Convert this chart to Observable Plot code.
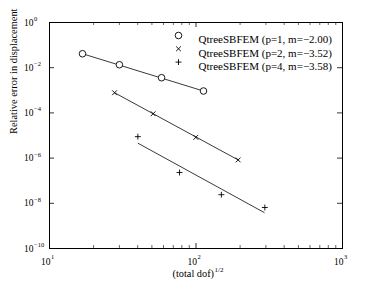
<!DOCTYPE html>
<html><head><meta charset="utf-8">
<script src="https://cdn.jsdelivr.net/npm/d3@7"></script>
<script src="https://cdn.jsdelivr.net/npm/@observablehq/plot@0.6"></script>
<style>body{margin:0;background:#fff}</style>
</head><body><div id="chart"></div>
<script>
// data
const p1X = [16.8, 30.0, 58.2, 112.5];
const p1Y = [0.0414, 0.0135, 0.0036, 0.00093];
const p2X = [27.8, 51.0, 99.7, 194];
const p2Y = [7.8e-4, 9.2e-5, 8.3e-6, 8.3e-7];
const p4X = [40.1, 77.2, 149, 295];
const p4Y = [8.9e-6, 2.3e-7, 2.4e-8, 6.5e-9];
const fit1X = [16.8, 112.5], fit1Y = [0.0414, 0.00093];
const fit2X = [27.8, 194], fit2Y = [7.8e-4, 8.3e-7];
const fit4X = [40.3, 292], fit4Y = [4.5e-6, 3.9e-9];
const seriesLabels = ["QtreeSBFEM (p=1, m=\u22122.00)", "QtreeSBFEM (p=2, m=\u22123.52)", "QtreeSBFEM (p=4, m=\u22123.58)"];
const seriesSymbols = ["circle", "times", "plus"];
const xMajor = [10, 100, 1000];
const xMajorExp = ["1", "2", "3"];
const xMinor = [20,30,40,50,60,70,80,90,200,300,400,500,600,700,800,900];
const yMajor = [1, 1e-2, 1e-4, 1e-6, 1e-8, 1e-10];
const yMajorExp = ["0", "\u22122", "\u22124", "\u22126", "\u22128", "\u221210"];
const xTitle = "(total dof)", xTitleExp = "1/2";
const yTitle = "Relative error in displacement";

const W = 378, H = 285, mL = 49, mR = 36, mT = 22, mB = 37;
const iW = W - mL - mR, iH = H - mT - mB;
const font = "Liberation Serif";
const pts = (X, Y) => X.map((x, i) => ({x, y: Y[i]}));
const symR = {circle: 3.3, times: 2.3, plus: 2.05};
const T = {fill: "#000", fontFamily: font};

const marks = [
  Plot.frame({stroke: "#000", strokeWidth: 1}),
  Plot.tickX(xMajor, {x: d => d, insetTop: iH - 5, stroke: "#000", strokeWidth: 0.8}),
  Plot.tickX(xMajor, {x: d => d, insetBottom: iH - 5, stroke: "#000", strokeWidth: 0.8}),
  Plot.tickX(xMinor, {x: d => d, insetTop: iH - 3, stroke: "#000", strokeWidth: 0.6}),
  Plot.tickX(xMinor, {x: d => d, insetBottom: iH - 3, stroke: "#000", strokeWidth: 0.6}),
  Plot.tickY(yMajor, {y: d => d, insetRight: iW - 5, stroke: "#000", strokeWidth: 0.8}),
  Plot.tickY(yMajor, {y: d => d, insetLeft: iW - 5, stroke: "#000", strokeWidth: 0.8}),
  Plot.text(xMajor, {x: d => d, y: 1e-10, text: () => "10", textAnchor: "end", dx: 1, dy: 13, fontSize: 9.5, ...T}),
  Plot.text(xMajor, {x: d => d, y: 1e-10, text: (d, i) => xMajorExp[i], textAnchor: "start", dx: 1.5, dy: 8.5, fontSize: 6.5, ...T}),
  Plot.text(yMajor, {x: 10, y: d => d, text: () => "10", textAnchor: "end", dx: -16, fontSize: 9.5, ...T}),
  Plot.text(yMajor, {x: 10, y: d => d, text: (d, i) => yMajorExp[i], textAnchor: "start", dx: -15.5, dy: -3.5, fontSize: 6.5, ...T}),
  Plot.text([xTitle], {frameAnchor: "bottom", text: d => d, textAnchor: "end", dx: 18, dy: 28, fontSize: 10.3, ...T}),
  Plot.text([xTitleExp], {frameAnchor: "bottom", text: d => d, textAnchor: "start", dx: 18.5, dy: 23.5, fontSize: 7, ...T}),
  Plot.text([yTitle], {frameAnchor: "left", text: d => d, rotate: -90, dx: -36, dy: -1.5, fontSize: 10.4, ...T}),
  Plot.line(pts(fit1X, fit1Y), {x: "x", y: "y", stroke: "#222", strokeWidth: 0.9}),
  Plot.line(pts(fit2X, fit2Y), {x: "x", y: "y", stroke: "#222", strokeWidth: 0.9}),
  Plot.line(pts(fit4X, fit4Y), {x: "x", y: "y", stroke: "#222", strokeWidth: 0.9}),
  Plot.dot(pts(p1X, p1Y), {x: "x", y: "y", symbol: "circle", r: symR.circle, stroke: "#000", fill: "#fff", strokeWidth: 0.9}),
  Plot.dot(pts(p2X, p2Y), {x: "x", y: "y", symbol: "times", r: symR.times, stroke: "#000", strokeWidth: 0.9}),
  Plot.dot(pts(p4X, p4Y), {x: "x", y: "y", symbol: "plus", r: symR.plus, stroke: "#000", strokeWidth: 0.9}),
];
// legend inside the frame, top right
seriesLabels.forEach((lab, i) => {
  marks.push(Plot.dot([lab], {frameAnchor: "top-left", symbol: () => seriesSymbols[i], r: symR[seriesSymbols[i]], dx: 129, dy: 13 + i * 13.3, stroke: "#000", fill: seriesSymbols[i] === "circle" ? "#fff" : "none", strokeWidth: 0.9}));
  marks.push(Plot.text([lab], {frameAnchor: "top-left", text: d => d, textAnchor: "start", dx: 149, dy: 13 + i * 13.3, fontSize: 11, ...T}));
});

const chart = Plot.plot({
  width: W, height: H,
  marginLeft: mL, marginRight: mR, marginTop: mT, marginBottom: mB,
  x: {type: "log", domain: [10, 1000], axis: null},
  y: {type: "log", domain: [1e-10, 1], axis: null},
  symbol: {type: "identity"},
  style: {background: "#fff", color: "#000"},
  marks
});
document.getElementById("chart").appendChild(chart);
</script>
</body></html>
